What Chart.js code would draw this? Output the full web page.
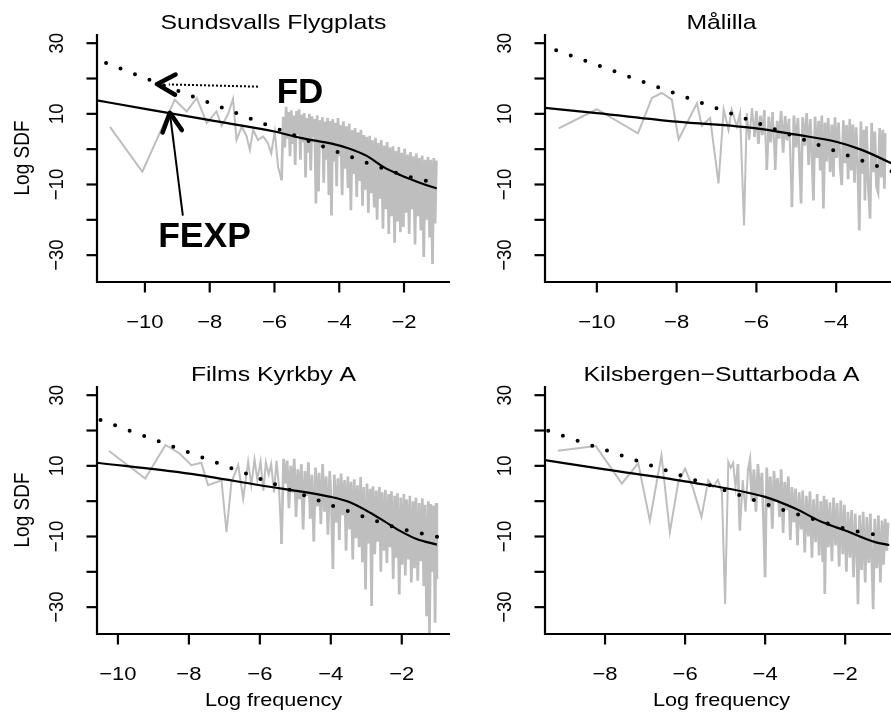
<!DOCTYPE html>
<html>
<head>
<meta charset="utf-8">
<script src="https://cdn.jsdelivr.net/npm/chart.js@4.4.1/dist/chart.umd.min.js"></script>
<style>
  html, body { margin: 0; padding: 0; background: #fff; overflow: hidden; }
  #wrap { position: relative; width: 891px; height: 715px; overflow: hidden; }
  #wrap canvas { position: absolute; left: 0; top: 0; }
</style>
</head>
<body>
<div id="wrap">
  <canvas id="c0" width="910" height="715"></canvas>
  <canvas id="c1" width="910" height="715"></canvas>
  <canvas id="c2" width="910" height="715"></canvas>
  <canvas id="c3" width="910" height="715"></canvas>
</div>
<script>
// ---- text and ticks ----
const panelTitles = ["Sundsvalls Flygplats", "Målilla", "Films Kyrkby A", "Kilsbergen\u2212Suttarboda A"];
const xAxisTitle = "Log frequency";
const yAxisTitle = "Log SDF";
const xTickValues = [-10, -8, -6, -4, -2];
const xTickLabels = ["\u221210", "\u22128", "\u22126", "\u22124", "\u22122"];
const yTickValues = [30, 20, 10, 0, -10, -20, -30];
const yTickLabels = ["30", "", "10", "", "\u221210", "", "\u221230"];

// ---- Sundsvalls Flygplats ----
const sundsvallsPgram = [
  [-11.08, 6.3], [-10.08, -6.4], [-9.08, 14.0], [-8.71, 10.7], [-8.40, 14.5], [-8.09, 7.4],
  [-7.79, 10.7], [-7.63, 6.6], [-7.43, 10.0], [-7.28, 14.2], [-7.17, 2.6], [-7.01, 6.4],
  [-6.86, 3.6], [-6.76, -0.2], [-6.66, 5.5], [-6.51, 2.6], [-6.35, 3.6], [-6.20, 1.7],
  [-6.10, -1.2], [-5.99, 5.0], [-5.89, -5.0], [-5.78, -8.8], [-5.73, 9.2],
  [-5.68, 0.5], [-5.64, 12.0], [-5.60, 3.0], [-5.56, 10.5], [-5.52, -2.0], [-5.48, 11.0],
  [-5.44, 1.5], [-5.40, 9.5], [-5.36, -4.5], [-5.32, 10.8], [-5.28, 4.0], [-5.24, 11.3],
  [-5.20, -3.0], [-5.16, 9.8], [-5.12, 2.0], [-5.08, 10.2], [-5.04, -8.0], [-5.00, 8.8],
  [-4.96, -1.0], [-4.92, 10.0], [-4.88, -6.0], [-4.84, 9.3], [-4.80, 3.5], [-4.76, 8.5],
  [-4.72, -15.4], [-4.68, 9.6], [-4.64, -12.0], [-4.60, 8.2], [-4.56, 0.5], [-4.52, 9.0],
  [-4.48, -9.5], [-4.44, 7.8], [-4.40, -3.0], [-4.36, 8.8], [-4.32, -13.0], [-4.28, 8.0],
  [-4.24, -18.8], [-4.20, 8.5], [-4.16, -3.5], [-4.12, 7.5], [-4.08, -10.5], [-4.04, 8.8],
  [-4.00, -2.0], [-3.96, 6.8], [-3.91, -13.0], [-3.87, 7.9], [-3.82, -5.5], [-3.78, 6.5],
  [-3.73, -11.0], [-3.69, 7.2], [-3.64, -17.3], [-3.60, 5.4], [-3.55, -7.0], [-3.51, 6.0],
  [-3.46, -13.5], [-3.42, 4.8], [-3.37, -9.0], [-3.33, 5.5], [-3.28, -16.0], [-3.24, 4.0],
  [-3.19, -11.5], [-3.15, 3.5], [-3.10, -18.0], [-3.06, 3.8], [-3.01, -12.5], [-2.97, 2.5],
  [-2.92, -16.5], [-2.88, 3.2], [-2.83, -20.0], [-2.79, 1.8], [-2.74, -14.0], [-2.70, 2.6],
  [-2.65, -22.5], [-2.61, 1.0], [-2.56, -17.0], [-2.52, 2.0], [-2.47, -24.0], [-2.43, 0.5],
  [-2.38, -19.0], [-2.34, 0.8], [-2.29, -26.5], [-2.25, -0.5], [-2.20, -20.5], [-2.16, 0.6],
  [-2.11, -23.5], [-2.07, -1.0], [-2.02, -22.0], [-1.98, 0.2], [-1.93, -18.0], [-1.89, -1.5],
  [-1.84, -24.0], [-1.80, -0.8], [-1.75, -17.0], [-1.71, -2.0], [-1.66, -27.0], [-1.62, -1.2],
  [-1.57, -19.0], [-1.53, -2.5], [-1.48, -23.0], [-1.44, -1.8], [-1.39, -30.5], [-1.35, -3.0],
  [-1.30, -20.0], [-1.26, -2.2], [-1.21, -25.0], [-1.17, -3.0], [-1.12, -32.5], [-1.08, -2.5],
  [-1.04, -21.0], [-1.00, -3.2]
];
const sundsvallsFexp = [
  [-11.6, 14.0], [-10.0, 11.4], [-8.0, 8.2], [-6.0, 5.0], [-5.2, 3.2], [-4.2, 1.5],
  [-3.7, 0.2], [-3.15, -1.9], [-2.64, -5.0], [-2.12, -7.3], [-1.6, -9.2], [-1.1, -10.8], [-0.99, -11.1]
];
const sundsvallsFd = [
  [-11.2, 24.4], [-9.77, 19.3], [-7.4, 11.0], [-5.96, 5.9], [-4.05, -0.8],
  [-3.07, -4.1], [-2.1, -7.1], [-1.61, -8.5], [-1.13, -9.2], [-1.0, -9.4]
];

// ---- Målilla ----
const malillaPgram = [
  [-10.96, 5.9], [-10.00, 11.3], [-8.97, 4.5], [-8.62, 14.5], [-8.37, 15.9], [-8.12, 14.0],
  [-7.95, 2.8], [-7.49, 13.0], [-7.37, 6.6], [-7.16, 8.8], [-6.95, -9.7], [-6.82, 11.2],
  [-6.70, 5.5], [-6.62, 11.2], [-6.49, 6.4], [-6.41, 10.2], [-6.31, -21.6], [-6.24, 10.2],
  [-6.18, 2.6], [-6.11, 11.6], [-6.05, 3.5], [-6.00, 10.8], [-5.95, 1.5], [-5.90, 9.5],
  [-5.85, 4.0], [-5.80, 11.0], [-5.74, -5.9], [-5.69, 9.2], [-5.64, 2.0], [-5.59, 10.5],
  [-5.53, -5.9], [-5.48, 8.0], [-5.43, 3.0], [-5.38, 10.8], [-5.33, -1.0], [-5.28, 9.4],
  [-5.23, 2.5], [-5.18, 8.6], [-5.11, -16.4], [-5.06, 9.5], [-5.01, 0.5], [-4.96, 8.8],
  [-4.92, -3.0], [-4.88, -15.4], [-4.84, 9.0], [-4.79, 1.0], [-4.74, 10.2], [-4.69, -4.5],
  [-4.65, 8.5], [-4.61, -0.5], [-4.57, -14.5], [-4.53, 9.2], [-4.48, -2.5], [-4.44, 8.0],
  [-4.40, -6.0], [-4.36, 9.5], [-4.32, -16.8], [-4.28, 7.5], [-4.24, -3.5], [-4.20, 8.8],
  [-4.15, -6.5], [-4.11, 7.0], [-4.07, -7.8], [-4.03, 9.0], [-3.99, -2.5], [-3.94, 7.5],
  [-3.90, -5.0], [-3.86, -10.2], [-3.82, 8.2], [-3.78, -4.0], [-3.74, 6.8], [-3.70, -8.5],
  [-3.66, 8.5], [-3.62, -6.0], [-3.58, 7.0], [-3.54, -9.5], [-3.50, 6.2], [-3.46, -4.5],
  [-3.42, -23.0], [-3.38, 7.8], [-3.34, -7.0], [-3.30, 5.5], [-3.28, -14.5], [-3.24, 6.5],
  [-3.20, -9.0], [-3.15, -19.7], [-3.11, 7.5], [-3.07, -6.5], [-3.03, 5.0], [-2.99, -10.5],
  [-2.95, -12.1], [-2.91, 6.0], [-2.87, -8.0], [-2.83, 5.5], [-2.79, -11.2], [-2.77, 4.5]
];
const malillaFexp = [
  [-11.4, 11.8], [-10.0, 10.2], [-8.0, 7.8], [-6.0, 5.9], [-5.0, 4.1], [-4.0, 2.1],
  [-3.36, -0.2], [-2.62, -4.0], [-2.4, -5.3]
];
const malillaFd = [
  [-11.02, 28.0], [-5.93, 7.2], [-2.79, -5.5], [-2.6, -6.3]
];

// ---- Films Kyrkby A ----
const filmsPgram = [
  [-10.25, 14.2], [-9.23, 6.4], [-8.66, 15.9], [-8.26, 13.5], [-7.93, 10.2], [-7.65, 10.9],
  [-7.46, 4.5], [-7.08, 5.9], [-6.94, -8.8], [-6.80, 5.4], [-6.61, 10.2], [-6.47, 0.7],
  [-6.33, 11.1], [-6.24, 4.5], [-6.15, 11.8], [-6.07, 6.0], [-5.98, 11.2], [-5.90, 3.0],
  [-5.83, 11.0], [-5.75, 7.5], [-5.68, 10.5], [-5.60, 2.5], [-5.53, 11.5], [-5.46, 4.0],
  [-5.39, -12.1], [-5.33, 12.0], [-5.28, 5.0], [-5.23, 11.5], [-5.18, -2.0], [-5.13, 10.0],
  [-5.08, 2.5], [-5.03, 12.0], [-4.98, -4.5], [-4.93, 9.0], [-4.88, 0.5], [-4.83, 10.5],
  [-4.78, -8.0], [-4.73, 8.5], [-4.68, 1.5], [-4.63, 11.0], [-4.58, -5.0], [-4.53, 7.5],
  [-4.48, -11.4], [-4.43, 9.5], [-4.38, -1.5], [-4.33, 8.0], [-4.28, -6.5], [-4.23, 10.5],
  [-4.18, -3.0], [-4.13, 7.0], [-4.08, -9.5], [-4.03, 8.5], [-3.98, -2.0], [-3.94, -19.2],
  [-3.90, 7.5], [-3.85, -6.0], [-3.80, 6.5], [-3.76, -11.0], [-3.71, 7.8], [-3.66, -4.0],
  [-3.61, 6.0], [-3.57, -14.0], [-3.52, 7.0], [-3.47, -8.0], [-3.43, 5.5], [-3.38, -16.5],
  [-3.34, 6.2], [-3.29, -10.5], [-3.25, 4.5], [-3.20, -13.0], [-3.16, 6.8], [-3.11, -17.3],
  [-3.07, 4.0], [-3.02, -25.0], [-2.98, 5.0], [-2.94, -12.0], [-2.89, 3.5], [-2.85, -29.7],
  [-2.81, 4.2], [-2.76, -15.0], [-2.72, 3.0], [-2.68, -11.5], [-2.63, 4.0], [-2.59, -20.0],
  [-2.55, 2.5], [-2.50, -14.0], [-2.46, 3.2], [-2.42, -17.5], [-2.37, 2.0], [-2.33, -13.0],
  [-2.29, 2.8], [-2.24, -22.0], [-2.20, 1.5], [-2.16, -16.0], [-2.12, 2.2], [-2.07, -26.4],
  [-2.03, 1.0], [-1.99, -18.0], [-1.94, 2.0], [-1.90, -21.0], [-1.86, 0.5], [-1.81, -16.5],
  [-1.77, 1.5], [-1.73, -23.0], [-1.68, 0.0], [-1.64, -19.0], [-1.60, 1.0], [-1.55, -22.5],
  [-1.51, -0.5], [-1.47, -17.0], [-1.42, 0.8], [-1.38, -24.0], [-1.34, -1.0], [-1.30, -32.6],
  [-1.25, 0.0], [-1.22, -40.0], [-1.18, -0.8], [-1.14, -20.0], [-1.10, -1.2], [-1.06, -34.4],
  [-1.03, -0.5], [-1.01, -22.0]
];
const filmsFexp = [
  [-10.7, 11.0], [-8.0, 7.8], [-6.0, 4.5], [-4.0, 1.2], [-3.46, -0.3], [-2.99, -2.7],
  [-2.52, -5.5], [-2.05, -8.4], [-1.58, -10.7], [-1.01, -12.3]
];
const filmsFd = [
  [-10.49, 23.0], [-6.09, 6.7], [-3.9, -1.5], [-2.14, -7.6], [-1.2, -9.7], [-1.0, -10.1]
];

// ---- Kilsbergen-Suttarboda A ----
const kilsbergenPgram = [
  [-9.18, 14.3], [-8.23, 15.6], [-7.58, 5.0], [-7.17, 10.7], [-6.88, -5.5], [-6.59, 13.0],
  [-6.38, -8.8], [-6.17, 5.4], [-6.00, 9.2], [-5.80, 3.6], [-5.59, -4.5], [-5.42, 5.9],
  [-5.30, 4.0], [-5.18, 6.0], [-5.08, 2.5], [-5.00, -29.1], [-4.92, 11.1], [-4.86, 9.5],
  [-4.80, 10.8], [-4.74, 4.0], [-4.68, 10.5], [-4.63, -8.3], [-4.56, 6.0], [-4.49, -3.0],
  [-4.43, 8.3], [-4.38, 11.4], [-4.33, 0.0], [-4.28, 9.0], [-4.23, -3.0], [-4.18, 10.5],
  [-4.13, 1.5], [-4.08, 8.0], [-4.04, -6.0], [-4.00, -21.5], [-3.96, 9.5], [-3.91, -2.0],
  [-3.87, 7.0], [-3.82, -7.8], [-3.78, 8.5], [-3.73, 0.0], [-3.69, 6.5], [-3.64, -4.5],
  [-3.60, 9.0], [-3.55, -9.0], [-3.51, 5.5], [-3.46, -2.5], [-3.42, 7.0], [-3.37, -11.0],
  [-3.33, 4.0], [-3.28, -6.0], [-3.24, 3.6], [-3.19, -12.5], [-3.15, 2.5], [-3.10, -8.0],
  [-3.06, 3.0], [-3.01, -14.5], [-2.97, 1.5], [-2.92, -10.0], [-2.88, 2.8], [-2.83, -16.0],
  [-2.79, 0.5], [-2.74, -11.6], [-2.70, 2.0], [-2.65, -15.4], [-2.61, 0.0], [-2.56, -17.3],
  [-2.53, 1.5], [-2.51, -26.3], [-2.47, 0.5], [-2.42, -13.0], [-2.38, -0.3], [-2.33, -17.0],
  [-2.29, 1.0], [-2.24, -12.5], [-2.20, -0.5], [-2.15, -18.5], [-2.11, 0.2], [-2.06, -15.0],
  [-2.02, -1.0], [-1.97, -20.0], [-1.93, -3.0], [-1.88, -16.0], [-1.84, -2.5], [-1.79, -21.5],
  [-1.75, -3.5], [-1.70, -18.0], [-1.68, -29.2], [-1.64, -4.0], [-1.59, -19.5], [-1.55, -3.0],
  [-1.50, -23.0], [-1.46, -4.5], [-1.41, -17.5], [-1.37, -3.5], [-1.32, -22.0], [-1.30, -30.6],
  [-1.26, -5.0], [-1.21, -19.0], [-1.17, -4.0], [-1.12, -23.0], [-1.08, -5.5], [-1.04, -18.0],
  [-1.00, -5.0], [-0.96, -14.0], [-0.93, -6.0]
];
const kilsbergenFexp = [
  [-9.6, 11.8], [-8.0, 9.0], [-6.0, 5.6], [-4.0, 1.2], [-3.25, -2.1], [-2.58, -5.9],
  [-2.0, -8.3], [-1.25, -11.6], [-0.9, -12.4]
];
const kilsbergenFd = [
  [-9.42, 19.9], [-5.48, 4.9], [-3.52, -2.6], [-1.92, -8.1], [-1.09, -9.8], [-0.95, -10.1]
];

// ---- annotations on the first panel (data units) ----
const fdNote = { text: "FD", at: [-5.21, 13.1], tail: [-6.51, 17.7], tip: [-9.63, 18.4] };
const fexpNote = { text: "FEXP", at: [-8.16, -27.7], tail: [-8.83, -18.8], tip: [-9.23, 10.3] };

const yRange = [-37.6, 32.6];
const FONT = "'Liberation Sans', Arial, Helvetica, sans-serif";

const panels = [
  { canvas: "c0", title: panelTitles[0], pgram: sundsvallsPgram, fexp: sundsvallsFexp, fd: sundsvallsFd,
    xRange: [-11.48, -0.58], rect: [97, 34, 450, 282], yTitle: true, xTitle: false, notes: true },
  { canvas: "c1", title: panelTitles[1], pgram: malillaPgram, fexp: malillaFexp, fd: malillaFd,
    xRange: [-11.30, -2.45], rect: [545, 34, 898, 282], yTitle: false, xTitle: false, notes: false },
  { canvas: "c2", title: panelTitles[2], pgram: filmsPgram, fexp: filmsFexp, fd: filmsFd,
    xRange: [-10.59, -0.64], rect: [97, 386, 450, 634], yTitle: true, xTitle: true, notes: false },
  { canvas: "c3", title: panelTitles[3], pgram: kilsbergenPgram, fexp: kilsbergenFexp, fd: kilsbergenFd,
    xRange: [-9.50, -0.68], rect: [545, 386, 898, 634], yTitle: false, xTitle: true, notes: false },
];

function drawText(ctx, str, x, y, font, sx, align, vertical) {
  ctx.save();
  ctx.translate(x, y);
  ctx.scale(sx, 1);
  if (vertical) ctx.rotate(-Math.PI / 2);
  ctx.font = font;
  ctx.textAlign = align;
  ctx.textBaseline = "alphabetic";
  ctx.fillStyle = "#000";
  ctx.fillText(str, 0, 0);
  ctx.restore();
}

function arrowHead(ctx, tip, from, len, spread, width) {
  const ang = Math.atan2(from[1] - tip[1], from[0] - tip[0]);
  ctx.save();
  ctx.setLineDash([]);
  ctx.lineWidth = width;
  ctx.lineCap = "round";
  ctx.lineJoin = "round";
  ctx.beginPath();
  ctx.moveTo(tip[0] + len * Math.cos(ang + spread), tip[1] + len * Math.sin(ang + spread));
  ctx.lineTo(tip[0], tip[1]);
  ctx.lineTo(tip[0] + len * Math.cos(ang - spread), tip[1] + len * Math.sin(ang - spread));
  ctx.stroke();
  ctx.restore();
}

function drawNotes(ctx, xs, ys) {
  const px = (p) => [xs.getPixelForValue(p[0]), ys.getPixelForValue(p[1])];
  ctx.save();
  ctx.strokeStyle = "#000";

  // FD: dotted shaft, solid heavy head
  const fTail = px(fdNote.tail), fTip = px(fdNote.tip);
  const d = Math.hypot(fTail[0] - fTip[0], fTail[1] - fTip[1]);
  const fStart = [fTip[0] + (fTail[0] - fTip[0]) * 12 / d, fTip[1] + (fTail[1] - fTip[1]) * 12 / d];
  ctx.lineWidth = 2;
  ctx.setLineDash([2, 2]);
  ctx.beginPath();
  ctx.moveTo(fTail[0], fTail[1]);
  ctx.lineTo(fStart[0], fStart[1]);
  ctx.stroke();
  arrowHead(ctx, fTip, fTail, 21, 0.5, 4.5);
  const fAt = px(fdNote.at);
  drawText(ctx, fdNote.text, fAt[0], fAt[1], "bold 35px " + FONT, 1, "center", false);

  // FEXP: solid shaft, heavy head
  const eTail = px(fexpNote.tail), eTip = px(fexpNote.tip);
  ctx.setLineDash([]);
  ctx.lineWidth = 2;
  ctx.beginPath();
  ctx.moveTo(eTail[0], eTail[1]);
  ctx.lineTo(eTip[0], eTip[1]);
  ctx.stroke();
  arrowHead(ctx, eTip, eTail, 21, 0.48, 4.5);
  const eAt = px(fexpNote.at);
  drawText(ctx, fexpNote.text, eAt[0], eAt[1], "bold 35.5px " + FONT, 1, "center", false);
  ctx.restore();
}

function makeBaseAxes(panel) {
  return {
    id: "baseAxes",
    afterDatasetsDraw(chart) {
      const ctx = chart.ctx;
      const xs = chart.scales.x, ys = chart.scales.y;
      const { left, right, top, bottom } = chart.chartArea;
      ctx.save();
      ctx.strokeStyle = "#000";
      ctx.lineWidth = 2.2;
      ctx.lineCap = "butt";
      ctx.lineJoin = "miter";
      ctx.beginPath();
      ctx.moveTo(left, top);
      ctx.lineTo(left, bottom);
      ctx.lineTo(right, bottom);
      ctx.stroke();

      xTickValues.forEach((v, i) => {
        if (v < xs.min || v > xs.max) return;
        const x = xs.getPixelForValue(v);
        ctx.beginPath();
        ctx.moveTo(x, bottom);
        ctx.lineTo(x, bottom + 10.5);
        ctx.stroke();
        drawText(ctx, xTickLabels[i], x, bottom + 45.5, "19px " + FONT, 1.16, "center", false);
      });
      yTickValues.forEach((v, i) => {
        const y = ys.getPixelForValue(v);
        ctx.beginPath();
        ctx.moveTo(left, y);
        ctx.lineTo(left - 10.5, y);
        ctx.stroke();
        if (yTickLabels[i]) drawText(ctx, yTickLabels[i], left - 34, y, "18.5px " + FONT, 1.14, "center", true);
      });

      drawText(ctx, panel.title, (left + right) / 2, top - 5.5, "21px " + FONT, 1.18, "center", false);
      if (panel.xTitle) drawText(ctx, xAxisTitle, (left + right) / 2, bottom + 72, "18.5px " + FONT, 1.17, "center", false);
      if (panel.yTitle) drawText(ctx, yAxisTitle, left - 68.5, (top + bottom) / 2, "19px " + FONT, 1.12, "center", true);
      if (panel.notes) drawNotes(ctx, xs, ys);
      ctx.restore();
    }
  };
}

function buildPanel(panel) {
  const canvas = document.getElementById(panel.canvas);
  const W = canvas.width, H = canvas.height;
  const [x0, y0, x1, y1] = panel.rect;
  return new Chart(canvas.getContext("2d"), {
    type: "scatter",
    data: {
      datasets: [
        {
          label: "FD",
          data: panel.fd,
          showLine: true,
          borderColor: "#000",
          borderWidth: 4,
          borderDash: [0, 15.5],
          borderCapStyle: "round",
          pointRadius: 0,
          tension: 0,
          fill: false,
        },
        {
          label: "FEXP",
          data: panel.fexp,
          showLine: true,
          borderColor: "#000",
          borderWidth: 2.2,
          pointRadius: 0,
          cubicInterpolationMode: "monotone",
          fill: false,
        },
        {
          label: "Periodogram",
          data: panel.pgram,
          showLine: true,
          borderColor: "#bebebe",
          borderWidth: 2,
          borderJoinStyle: "miter",
          pointRadius: 0,
          tension: 0,
          fill: false,
          // tightly packed high-frequency stretch reads as a solid band
          segment: { borderWidth: (c) => (c.p1.x - c.p0.x < 2.2 ? 2.7 : 2) },
        }
      ]
    },
    options: {
      responsive: false,
      animation: false,
      events: [],
      layout: { padding: { left: x0, top: y0, right: W - x1, bottom: H - y1 } },
      scales: {
        x: { type: "linear", min: panel.xRange[0], max: panel.xRange[1], display: false },
        y: { type: "linear", min: yRange[0], max: yRange[1], display: false },
      },
      plugins: { legend: { display: false }, tooltip: { enabled: false }, title: { display: false } },
    },
    plugins: [makeBaseAxes(panel)],
  });
}

panels.forEach(buildPanel);
</script>
</body>
</html>
